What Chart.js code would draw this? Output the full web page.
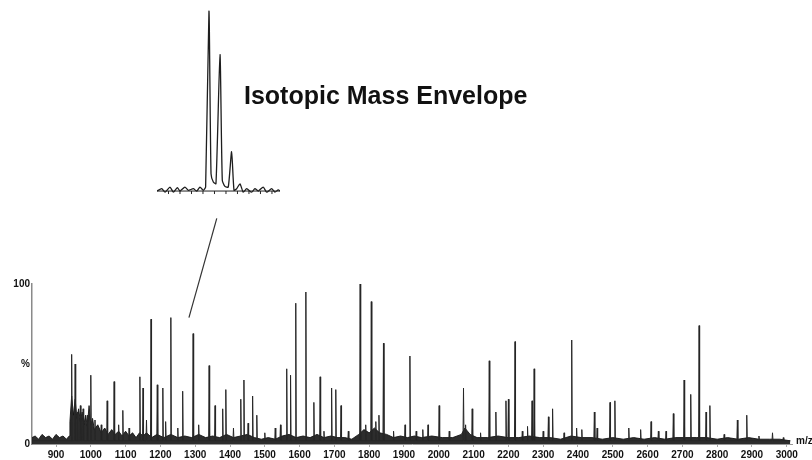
<!DOCTYPE html>
<html>
<head>
<meta charset="utf-8">
<script src="https://cdn.jsdelivr.net/npm/chart.js@4.4.1/dist/chart.umd.min.js"></script>
<style>
  body { margin: 0; background: #fff; }
  #wrap { position: relative; width: 812px; height: 460px; overflow: hidden; }
  #mainChart { position: absolute; left: 0; top: 0; }
  #insetChart { position: absolute; left: 157px; top: 10px; }
  #envTitle {
    position: absolute; left: 244px; top: 83px;
    font: bold 25px "Liberation Sans", Arial, sans-serif; line-height: 25px;
    color: #111; white-space: nowrap;
  }
</style>
</head>
<body>
<div id="wrap">
  <canvas id="mainChart" width="812" height="460"></canvas>
  <canvas id="insetChart" width="123" height="191"></canvas>
  <div id="envTitle">Isotopic Mass Envelope</div>
</div>
<script>
// Peak list (m/z, relative intensity %)
const peakMz = [945, 955, 962, 970, 978, 990, 1000, 1012, 1030, 1047, 1067, 1080, 1092, 1110,
  1141, 1150, 1160, 1173, 1191, 1207, 1215, 1230, 1250, 1264, 1294, 1310, 1340, 1357, 1379,
  1388, 1410, 1431, 1440, 1452, 1465, 1477, 1500, 1530, 1545, 1563, 1574, 1589, 1618, 1641,
  1659, 1670, 1692, 1704, 1719, 1740, 1774, 1790, 1806, 1819, 1828, 1841, 1870, 1903, 1917,
  1935, 1954, 1969, 2001, 2030, 2071, 2077, 2096, 2120, 2145, 2164, 2193, 2200, 2219, 2240,
  2255, 2268, 2274, 2300, 2315, 2327, 2360, 2382, 2396, 2411, 2447, 2455, 2492, 2506, 2546,
  2580, 2610, 2631, 2653, 2674, 2705, 2724, 2748, 2768, 2779, 2820, 2858, 2885, 2920, 2959, 2990];
const peakPct = [56, 50, 20, 24, 22, 18, 43, 15, 12, 27, 39, 12, 21, 10,
  42, 35, 15, 78, 37, 35, 14, 79, 10, 33, 69, 12, 49, 24, 22,
  34, 10, 28, 40, 13, 30, 18, 7, 10, 12, 47, 43, 88, 95, 26,
  42, 8, 35, 34, 24, 8, 100, 12, 89, 14, 18, 63, 8, 12, 55,
  8, 9, 12, 24, 8, 35, 12, 22, 7, 52, 20, 27, 28, 64, 8,
  11, 27, 47, 8, 17, 22, 7, 65, 10, 9, 20, 10, 26, 27, 10,
  9, 14, 8, 8, 19, 40, 31, 74, 20, 24, 6, 15, 18, 5, 7, 4];

// Dense noise band at the bottom of the spectrum (top edge, %)
const noiseMz = [831, 840, 850, 860, 870, 880, 890, 900, 910, 920, 930, 938,
  940, 945, 950, 955, 960, 965, 970, 975, 980, 985, 990, 995, 1000, 1005, 1010, 1020, 1030,
  1040, 1050, 1060, 1070, 1080, 1090, 1100, 1110, 1120, 1130, 1140, 1150, 1160, 1175, 1190,
  1210, 1230, 1250, 1270, 1290, 1310, 1330, 1350, 1370, 1390, 1410, 1430, 1450, 1470, 1490,
  1510, 1530, 1550, 1570, 1590, 1610, 1630, 1650, 1670, 1690, 1710, 1730, 1750, 1770, 1785,
  1800, 1815, 1830, 1850, 1870, 1890, 1910, 1930, 1950, 1980, 2010, 2040, 2065, 2075, 2090,
  2110, 2140, 2170, 2200, 2230, 2260, 2290, 2320, 2350, 2380, 2410, 2440, 2470, 2500, 2530,
  2560, 2590, 2620, 2650, 2680, 2710, 2740, 2770, 2800, 2830, 2860, 2890, 2920, 2950, 2980, 3010];
const noisePct = [4, 5, 3, 6, 4, 5, 3, 6, 4, 5, 3, 5,
  14, 30, 18, 28, 16, 22, 14, 20, 12, 18, 11, 24, 12, 16, 9, 12, 7,
  10, 6, 9, 6, 8, 5, 8, 5, 7, 4, 7, 5, 7, 4, 6,
  4, 6, 4, 5, 4, 6, 4, 5, 4, 6, 4, 5, 6, 4, 3,
  4, 3, 5, 6, 4, 5, 4, 6, 4, 5, 4, 4, 3, 6, 9,
  7, 10, 7, 6, 4, 5, 4, 5, 4, 5, 4, 4, 6, 10, 6,
  4, 4, 5, 4, 4, 5, 4, 4, 3, 5, 4, 4, 3, 4, 3,
  4, 3, 4, 3, 4, 4, 4, 4, 3, 4, 3, 4, 3, 3, 3, 2];

const xTicks = [900, 1000, 1100, 1200, 1300, 1400, 1500, 1600, 1700, 1800, 1900,
  2000, 2100, 2200, 2300, 2400, 2500, 2600, 2700, 2800, 2900, 3000];
const yTicks = [0, 50, 100];
const yTickLabels = ['0', '%', '100'];

// Isotopic envelope inset (m/z offset, relative %)
const insetMz = [0, 0.41, 0.7, 1.13, 1.42, 1.77, 2.0, 2.43, 2.72, 3.16, 3.45, 3.74, 4.03, 4.23,
  4.52, 4.7, 4.9, 5.13, 5.48, 5.68, 5.91, 6.2, 6.49, 6.7, 6.93, 7.22, 7.5, 7.8, 8.23, 8.52,
  8.81, 9.24, 9.54, 9.97, 10.26, 10.55, 10.7];
const insetPct = [0, 1.3, -0.6, 2.2, -0.6, 1.9, 0, 2.2, 0.4, 1.3, 0, 2.2, 0.4, 2.2,
  99.4, 9.6, 5, 4, 75.4, 6, 2.6, 2.2, 21.7, 0.4, 1.3, 4, -0.6, 1.3, -0.6, 1.3,
  0, 2.2, -0.6, 1.3, -0.6, 0.7, 0];
const insetTicks = [1, 2, 3, 4, 5, 6, 7, 8, 9, 10];

// connector from the inset down to its peak (data coords)
const pointerFrom = { x: 1282, y: 79 };
const pointerTo = { x: 1362, y: 141 };

const BASE = 2;
const spectrum = [{ x: 831, y: BASE }];
peakMz.forEach((m, i) => {
    spectrum.push({ x: m - 1.5, y: BASE }, { x: m, y: peakPct[i] }, { x: m + 1.5, y: BASE });
});
spectrum.push({ x: 3010, y: BASE });

const noiseBand = noiseMz.map((m, i) => ({ x: m, y: noisePct[i] }));

const FONT = '"Liberation Sans", Arial, sans-serif';

const extrasPlugin = {
    id: 'extras',
    afterDraw(chart) {
        const ctx = chart.ctx;
        const xs = chart.scales.x, ys = chart.scales.y;
        ctx.save();
        // m/z label
        ctx.fillStyle = '#111';
        ctx.font = 'bold 10px ' + FONT;
        ctx.textAlign = 'left';
        ctx.textBaseline = 'middle';
        ctx.fillText('m/z', 796, 441);
        // pointer line
        ctx.strokeStyle = '#333';
        ctx.lineWidth = 1.2;
        ctx.beginPath();
        ctx.moveTo(xs.getPixelForValue(pointerFrom.x), ys.getPixelForValue(pointerFrom.y));
        ctx.lineTo(xs.getPixelForValue(pointerTo.x), ys.getPixelForValue(pointerTo.y));
        ctx.stroke();
        ctx.restore();
    }
};

function initializeMainChart() {
    const ctx = document.getElementById('mainChart').getContext('2d');
    new Chart(ctx, {
        type: 'line',
        data: {
            datasets: [{
                data: spectrum,
                borderColor: '#262626',
                borderWidth: 1,
                pointRadius: 0,
                tension: 0,
                fill: false,
                order: 1
            }, {
                data: noiseBand,
                borderColor: 'rgba(20,20,20,0.9)',
                borderWidth: 1,
                backgroundColor: 'rgba(22,22,22,0.9)',
                pointRadius: 0,
                tension: 0,
                fill: 'origin',
                order: 2
            }]
        },
        options: {
            responsive: false,
            animation: false,
            layout: { padding: { top: 284, right: 20, left: 0, bottom: 0 } },
            plugins: { legend: { display: false }, tooltip: { enabled: false } },
            scales: {
                x: {
                    type: 'linear',
                    min: 831,
                    max: 3015,
                    afterBuildTicks: scale => { scale.ticks = xTicks.map(v => ({ value: v })); },
                    afterFit: scale => { scale.height = 16; },
                    grid: { drawOnChartArea: false, tickLength: 3, color: '#aaa' },
                    border: { color: '#999' },
                    ticks: {
                        padding: 2,
                        maxRotation: 0,
                        autoSkip: false,
                        color: '#111',
                        font: { family: FONT, size: 10, weight: 'bold' },
                        callback: v => String(v)
                    }
                },
                y: {
                    min: 0,
                    max: 100,
                    afterBuildTicks: scale => { scale.ticks = yTicks.map(v => ({ value: v })); },
                    afterFit: scale => { scale.width = 32; },
                    grid: { display: false, drawTicks: false },
                    border: { color: '#8a8a8a', width: 1.5 },
                    ticks: {
                        padding: 2,
                        color: '#111',
                        font: { family: FONT, size: 10, weight: 'bold' },
                        callback: v => yTickLabels[yTicks.indexOf(v)]
                    }
                }
            }
        },
        plugins: [extrasPlugin]
    });
}

const insetAxisPlugin = {
    id: 'insetAxis',
    afterDatasetsDraw(chart) {
        const ctx = chart.ctx;
        const xs = chart.scales.x, ys = chart.scales.y;
        const y0 = ys.getPixelForValue(0);
        ctx.save();
        ctx.strokeStyle = '#222';
        ctx.lineWidth = 1;
        ctx.beginPath();
        ctx.moveTo(xs.left, y0);
        ctx.lineTo(xs.right, y0);
        insetTicks.forEach(t => {
            const px = xs.getPixelForValue(t);
            ctx.moveTo(px, y0);
            ctx.lineTo(px, y0 + 3);
        });
        ctx.stroke();
        ctx.restore();
    }
};

function initializeInset() {
    const ctx = document.getElementById('insetChart').getContext('2d');
    new Chart(ctx, {
        type: 'line',
        data: {
            datasets: [{
                data: insetMz.map((m, i) => ({ x: m, y: insetPct[i] })),
                borderColor: '#1e1e1e',
                borderWidth: 1.3,
                pointRadius: 0,
                tension: 0.2,
                clip: false
            }]
        },
        options: {
            responsive: false,
            animation: false,
            layout: { padding: 0 },
            plugins: { legend: { display: false }, tooltip: { enabled: false } },
            scales: {
                x: { type: 'linear', min: 0, max: 10.7, display: false },
                y: { min: -5.5, max: 100, display: false }
            }
        },
        plugins: [insetAxisPlugin]
    });
}

initializeMainChart();
initializeInset();
</script>
</body>
</html>
